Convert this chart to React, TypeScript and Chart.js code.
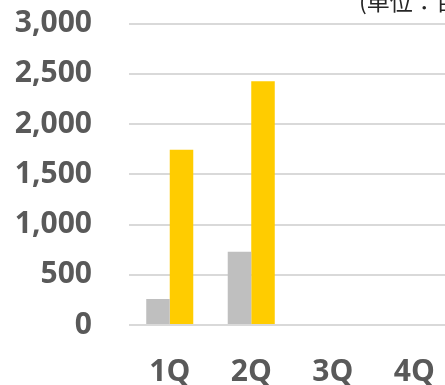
import React, { useEffect, useRef } from "react";
import { Chart, registerables } from "chart.js";

Chart.register(...registerables);

const categories = ["1Q", "2Q", "3Q", "4Q"];
const previousYear = [258, 730, null, null];
const currentYear = [1745, 2425, null, null];
const yTicks = [0, 500, 1000, 1500, 2000, 2500, 3000];
const unitLabel = "(単位：百万円)";

const unitPlugin = {
  id: "unitLabel",
  afterDraw(chart: any) {
    const ctx = chart.ctx;
    ctx.save();
    ctx.font = "23px 'Noto Sans CJK JP'";
    ctx.fillStyle = "#262626";
    ctx.textAlign = "left";
    ctx.textBaseline = "alphabetic";
    ctx.fillText(unitLabel, 359, 10);
    ctx.restore();
  },
};

const tickFont = { family: "'Open Sans'", size: 30, weight: "bold" as const, lineHeight: 1 };

export default function App() {
  const ref = useRef<HTMLCanvasElement>(null);
  useEffect(() => {
    if (!ref.current) return;
    const chart = new Chart(ref.current, {
      type: "bar",
      data: {
        labels: categories,
        datasets: [
          {
            label: "前年",
            data: previousYear,
            backgroundColor: "#bfbfbf",
            barPercentage: 1,
            categoryPercentage: 0.577,
          },
          {
            label: "当年",
            data: currentYear,
            backgroundColor: "#ffcc00",
            barPercentage: 1,
            categoryPercentage: 0.577,
          },
        ],
      },
      options: {
        responsive: false,
        animation: false,
        layout: { padding: { top: 23.5, right: 1, left: 0, bottom: 0 } },
        plugins: { legend: { display: false }, tooltip: { enabled: false } },
        scales: {
          x: {
            grid: {
              display: true,
              drawOnChartArea: false,
              drawTicks: true,
              tickLength: 32,
              tickColor: "rgba(0,0,0,0)",
            },
            border: { display: false },
            afterFit(scale: any) {
              scale.height = 60;
            },
            ticks: {
              padding: 0,
              color: "#595959",
              font: tickFont,
            },
          },
          y: {
            min: 0,
            max: 3000,
            afterBuildTicks(scale: any) {
              scale.ticks = yTicks.map((v) => ({ value: v }));
            },
            afterFit(scale: any) {
              scale.width = 129;
            },
            grid: {
              color: "#d9d9d9",
              lineWidth: 2,
              drawTicks: true,
              tickLength: 37,
              tickColor: "rgba(0,0,0,0)",
            },
            border: { display: false },
            ticks: {
              padding: 0,
              color: "#595959",
              font: tickFont,
              callback: (v: any) => Number(v).toLocaleString("en-US"),
            },
          },
        },
      },
      plugins: [unitPlugin],
    });
    return () => chart.destroy();
  }, []);
  return (
    <div
      style={{
        position: "fixed",
        left: 0,
        top: 0,
        width: 445,
        height: 385,
        overflow: "hidden",
        background: "#fff",
      }}
    >
      <canvas ref={ref} width={456} height={385} style={{ width: 456, height: 385 }} />
    </div>
  );
}
